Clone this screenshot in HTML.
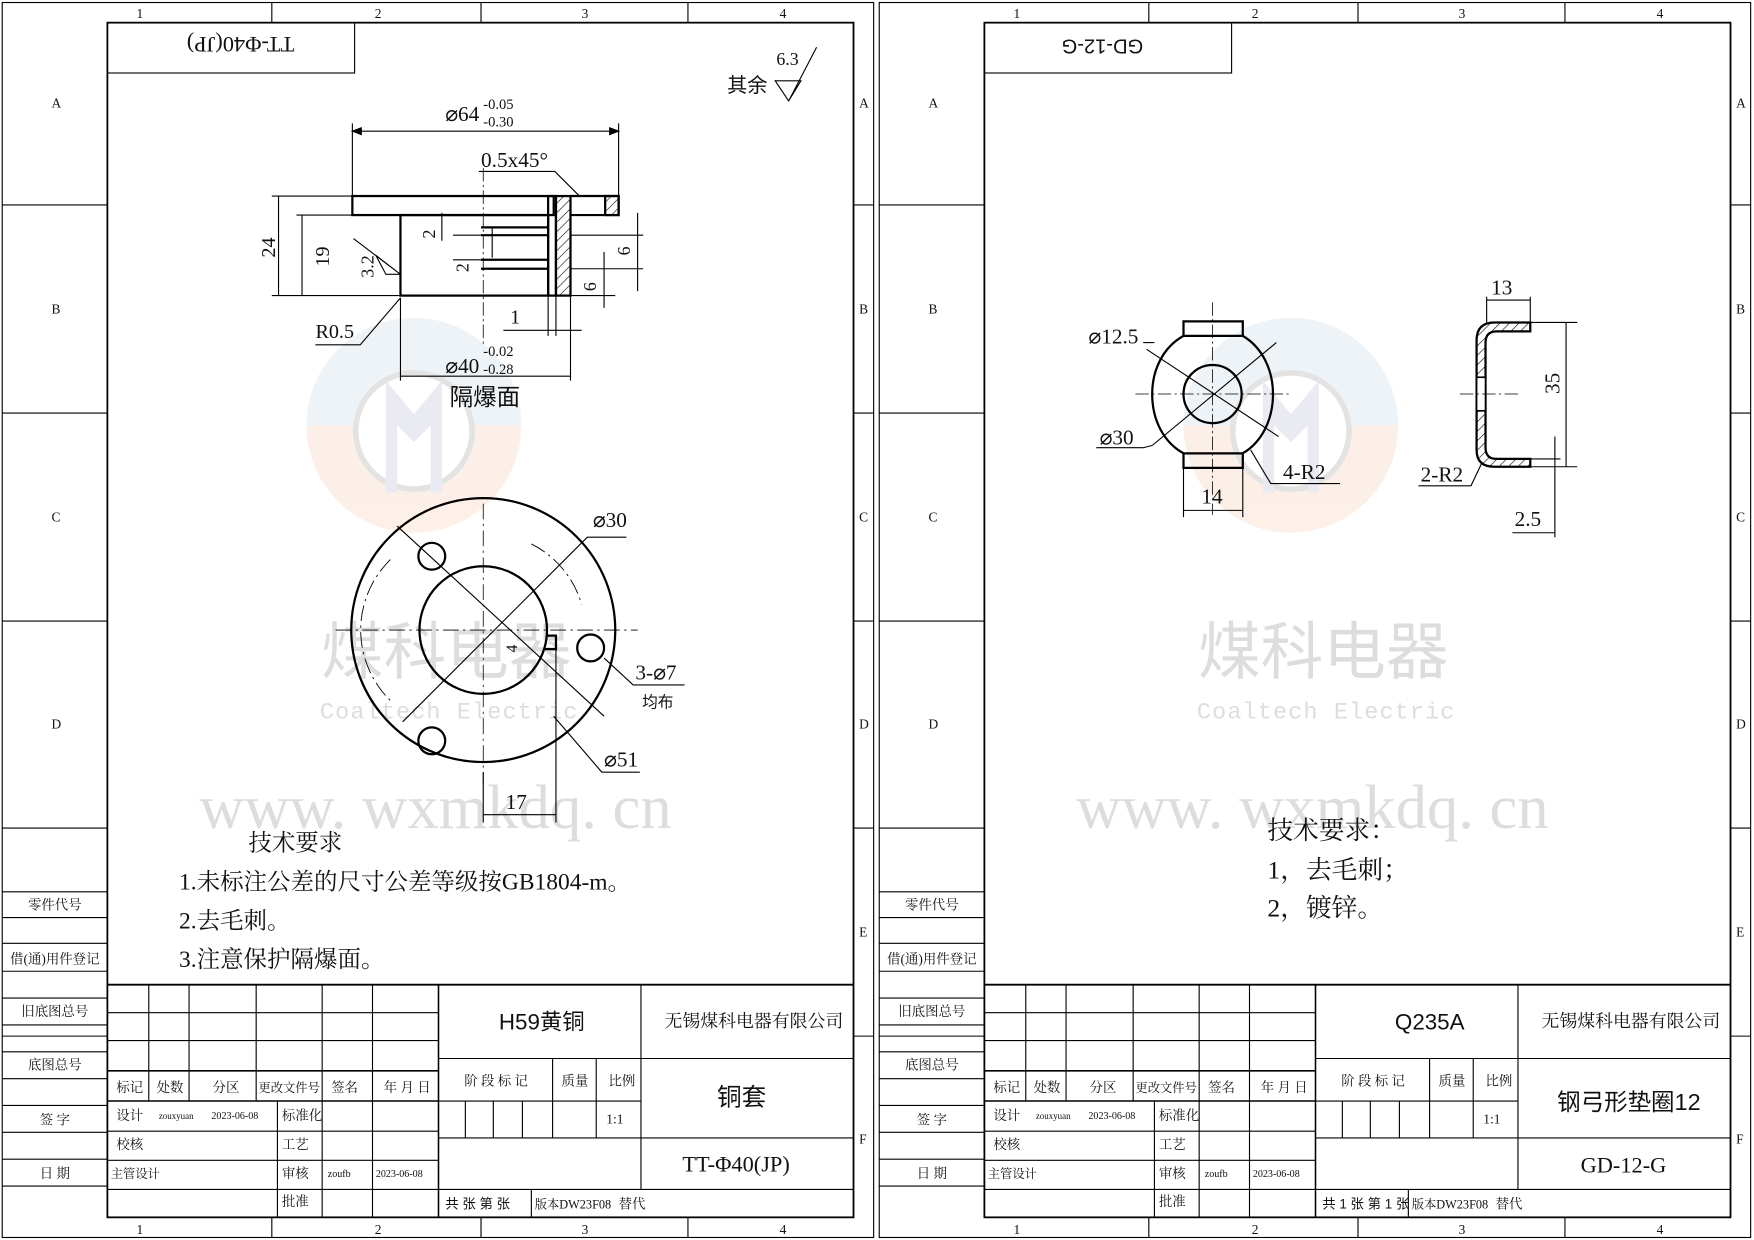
<!DOCTYPE html>
<html><head><meta charset="utf-8"><style>
html,body{margin:0;padding:0;background:#fff}
svg{display:block}
text{font-family:"Liberation Serif","Noto Serif CJK SC","Noto Sans CJK SC",serif;fill:#111}
.s{font-family:"Liberation Sans","Noto Sans CJK SC",sans-serif}
</style></head><body>
<svg width="1754" height="1240" viewBox="0 0 1568 1108" xmlns="http://www.w3.org/2000/svg">
<defs>
<pattern id="h" width="6" height="6" patternUnits="userSpaceOnUse" patternTransform="rotate(45)"><line x1="0" y1="0" x2="0" y2="6" stroke="#000" stroke-width="1"/></pattern>
<g id="frame" fill="none" stroke="#000" stroke-width="1">
<rect x="2" y="2" width="779" height="1104"/>
<rect x="96" y="20" width="667" height="1068" stroke-width="1.6"/>
<line x1="243" y1="2" x2="243" y2="20"/><line x1="430" y1="2" x2="430" y2="20"/><line x1="615" y1="2" x2="615" y2="20"/>
<line x1="243" y1="1088" x2="243" y2="1106"/><line x1="430" y1="1088" x2="430" y2="1106"/><line x1="615" y1="1088" x2="615" y2="1106"/>
<line x1="2" y1="183" x2="96" y2="183"/><line x1="2" y1="369" x2="96" y2="369"/><line x1="2" y1="555" x2="96" y2="555"/><line x1="2" y1="740" x2="96" y2="740"/><line x1="2" y1="926" x2="96" y2="926"/>
<line x1="763" y1="183" x2="781" y2="183"/><line x1="763" y1="369" x2="781" y2="369"/><line x1="763" y1="555" x2="781" y2="555"/><line x1="763" y1="740" x2="781" y2="740"/><line x1="763" y1="926" x2="781" y2="926"/>
<rect x="96" y="20" width="221" height="45"/>
<line x1="2" y1="797" x2="96" y2="797"/><line x1="2" y1="820" x2="96" y2="820"/><line x1="2" y1="843" x2="96" y2="843"/><line x1="2" y1="868" x2="96" y2="868"/>
<line x1="2" y1="892" x2="96" y2="892"/><line x1="2" y1="916" x2="96" y2="916"/><line x1="2" y1="940" x2="96" y2="940"/><line x1="2" y1="964" x2="96" y2="964"/>
<line x1="2" y1="988" x2="96" y2="988"/><line x1="2" y1="1012" x2="96" y2="1012"/><line x1="2" y1="1036" x2="96" y2="1036"/><line x1="2" y1="1060" x2="96" y2="1060"/>
<line x1="96" y1="880" x2="763" y2="880" stroke-width="1.6"/>
<line x1="392" y1="880" x2="392" y2="1088" stroke-width="1.4"/><line x1="573" y1="880" x2="573" y2="1063"/>
<line x1="96" y1="905" x2="392" y2="905"/><line x1="96" y1="930" x2="392" y2="930"/><line x1="96" y1="957" x2="392" y2="957" stroke-width="1.4"/>
<line x1="96" y1="984" x2="392" y2="984" stroke-width="1.4"/><line x1="96" y1="1011" x2="392" y2="1011"/><line x1="96" y1="1037" x2="392" y2="1037"/><line x1="96" y1="1063" x2="392" y2="1063"/>
<line x1="133" y1="880" x2="133" y2="984"/><line x1="169" y1="880" x2="169" y2="984"/><line x1="229" y1="880" x2="229" y2="984"/>
<line x1="288" y1="880" x2="288" y2="1088"/><line x1="333" y1="880" x2="333" y2="1088"/><line x1="248" y1="984" x2="248" y2="1088"/>
<line x1="392" y1="946" x2="763" y2="946"/><line x1="392" y1="984" x2="573" y2="984"/><line x1="392" y1="1017" x2="763" y2="1017"/><line x1="392" y1="1063" x2="763" y2="1063"/>
<line x1="494" y1="946" x2="494" y2="1017"/><line x1="533" y1="946" x2="533" y2="1017"/>
<line x1="416" y1="984" x2="416" y2="1017"/><line x1="441" y1="984" x2="441" y2="1017"/><line x1="467" y1="984" x2="467" y2="1017"/>
<line x1="475" y1="1063" x2="475" y2="1088"/>
</g>
<g id="ftext" font-size="12">
<text x="122" y="16">1</text><text x="335" y="16">2</text><text x="520" y="16">3</text><text x="697" y="16">4</text>
<text x="122" y="1103">1</text><text x="335" y="1103">2</text><text x="520" y="1103">3</text><text x="697" y="1103">4</text>
<text x="46" y="96">A</text><text x="46" y="280">B</text><text x="46" y="466">C</text><text x="46" y="651">D</text>
<text x="768" y="96">A</text><text x="768" y="280">B</text><text x="768" y="466">C</text><text x="768" y="651">D</text><text x="768" y="837">E</text><text x="768" y="1022">F</text>
<g class="s" font-size="12" text-anchor="middle"><text x="49" y="813">零件代号</text><text x="49" y="861">借(通)用件登记</text><text x="49" y="908">旧底图总号</text><text x="49" y="956">底图总号</text><text x="49" y="1005">签 字</text><text x="49" y="1053">日 期</text></g>
<g class="s" font-size="12"><text x="104" y="976">标记</text><text x="140" y="976">处数</text><text x="190" y="976">分区</text><text x="231" y="976" font-size="11">更改文件号</text><text x="296" y="976">签名</text><text x="343" y="976">年 月 日</text>
<text x="104" y="1001">设计</text><text x="104" y="1027">校核</text><text x="99" y="1053" font-size="11">主管设计</text>
<text x="252" y="1001">标准化</text><text x="252" y="1027">工艺</text><text x="252" y="1053">审核</text><text x="252" y="1078">批准</text>
<text x="142" y="1000" font-size="8">zouxyuan</text><text x="189" y="1000" font-size="9">2023-06-08</text>
<text x="293" y="1052" font-size="9">zoufb</text><text x="336" y="1052" font-size="9">2023-06-08</text>
<text x="415" y="970">阶 段 标 记</text><text x="502" y="970">质量</text><text x="544" y="970">比例</text><text x="542" y="1004">1:1</text>
<text x="478" y="1080" font-size="11">版本DW23F08</text><text x="553" y="1080">替代</text>
<text x="594" y="918" font-size="16">无锡煤科电器有限公司</text></g>
</g>
</defs>

<g opacity="0.4">
<circle cx="370" cy="380" r="96" fill="#f8d9c6"/><path d="M274 380 A96 96 0 0 1 466 380Z" fill="#d6e2f0"/>
<circle cx="370" cy="385" r="52" fill="#fff" stroke="#bbb" stroke-width="5"/>
<path d="M345 440 V340 L370 370 L395 340 V440 H385 V380 L370 395 L355 380 V440Z" fill="#c9cde0"/>
<circle cx="1154" cy="380" r="96" fill="#f8d9c6"/><path d="M1058 380 A96 96 0 0 1 1250 380Z" fill="#d6e2f0"/>
<circle cx="1154" cy="385" r="52" fill="#fff" stroke="#bbb" stroke-width="5"/>
<path d="M1129 440 V340 L1154 370 L1179 340 V440 H1169 V380 L1154 395 L1139 380 V440Z" fill="#c9cde0"/>
</g>
<g>
<text x="287" y="602" font-size="56" class="s" style="fill:#ddd">煤科电器</text>
<text x="286" y="642" font-size="21" style="fill:#ddd;font-family:'Liberation Mono',monospace" letter-spacing="1">Coaltech Electric</text>
<text x="178" y="740" font-size="56" style="fill:#ddd">www. wxmkdq. cn</text>
<text x="1071" y="602" font-size="56" class="s" style="fill:#ddd">煤科电器</text>
<text x="1070" y="642" font-size="21" style="fill:#ddd;font-family:'Liberation Mono',monospace" letter-spacing="1">Coaltech Electric</text>
<text x="962" y="740" font-size="56" style="fill:#ddd">www. wxmkdq. cn</text>
</g>

<use href="#frame"/><use href="#ftext"/>
<use href="#frame" transform="translate(784,0)"/><use href="#ftext" transform="translate(784,0)"/>

<text x="0" y="0" font-size="20" transform="translate(263,33) rotate(180)">TT-Φ40(JP)</text>
<text x="446" y="920" font-size="20" class="s">H59黄铜</text>
<text x="641" y="988" font-size="22" class="s">铜套</text>
<text x="610" y="1047" font-size="20">TT-Φ40(JP)</text>
<text x="398" y="1080" font-size="12" class="s">共  张  第  张</text>
<text x="0" y="0" font-size="18" transform="translate(1022,35) rotate(180)" class="s">GD-12-G</text>
<text x="1247" y="920" font-size="20" class="s">Q235A</text>
<text x="1392" y="992" font-size="21" class="s">钢弓形垫圈12</text>
<text x="1413" y="1048" font-size="20">GD-12-G</text>
<text x="1182" y="1080" font-size="12" class="s">共 1 张  第 1 张</text>

<g fill="none" stroke="#000" stroke-width="1">
<text x="650" y="82" font-size="18" class="s" stroke="none">其余</text>
<path d="M693 72 L716 72 L705 90 Z M705 90 L730 42"/><text x="694" y="58" font-size="16" stroke="none">6.3</text>
<g stroke-width="2"><rect x="315" y="175" width="180" height="17"/><rect x="358" y="192" width="132" height="72"/></g>
<rect x="497" y="175" width="13" height="89" fill="url(#h)" stroke-width="2"/>
<rect x="490" y="175" width="7" height="89" stroke-width="2"/>
<path d="M510 175 H553 V192 H510" stroke-width="2"/><rect x="541" y="175" width="12" height="17" fill="url(#h)" stroke-width="2"/>
<g stroke-width="2"><path d="M430 203 H490 M430 210 H490 M430 232 H490 M430 240 H490"/></g>
<line x1="432" y1="150" x2="432" y2="310" stroke-dasharray="12 3 2 3" stroke-width="0.7"/>
<path d="M315 175 V110 M553 175 V110 M315 117 H553"/><path d="M315 117 l8 -3 v6z M553 117 l-8 -3 v6z" fill="#000"/>
<text x="398" y="108" font-size="19" stroke="none">⌀64</text><text x="432" y="97" font-size="13" stroke="none">-0.05</text><text x="432" y="113" font-size="13" stroke="none">-0.30</text>
<path d="M428 153 H496 L518 175"/><text x="430" y="149" font-size="19" stroke="none">0.5x45°</text>
<path d="M243 175 H315 M243 264 H358 M249 175 V264 M270 192 V264 M265 192 H358"/>
<text transform="translate(246,230) rotate(-90)" font-size="18" stroke="none">24</text>
<text transform="translate(294,238) rotate(-90)" font-size="18" stroke="none">19</text>
<text transform="translate(334,248) rotate(-90)" font-size="16" stroke="none">3.2</text><path d="M336 228 L358 245 L345 245Z M316 213 L358 245"/>
<path d="M282 308 H322 L358 266"/><text x="282" y="302" font-size="18" stroke="none">R0.5</text>
<path d="M358 266 V340 M510 264 V340 M358 336 H510"/>
<text x="398" y="333" font-size="19" stroke="none">⌀40</text><text x="432" y="318" font-size="13" stroke="none">-0.02</text><text x="432" y="334" font-size="13" stroke="none">-0.28</text>
<text x="402" y="362" font-size="21" class="s" stroke="none">隔爆面</text>
<path d="M450 295 H520 M490 264 V300 M497 264 V300"/><text x="456" y="289" font-size="18" stroke="none">1</text>
<path d="M440 203 V230 M405 210 H430 M405 232 H430 M395 190 V215"/>
<text transform="translate(389,213) rotate(-90)" font-size="16" stroke="none">2</text>
<text transform="translate(419,243) rotate(-90)" font-size="16" stroke="none">2</text>
<path d="M510 210 H575 M510 240 H575 M570 190 V260 M540 225 V275 M510 264 H550"/>
<text transform="translate(563,228) rotate(-90)" font-size="16" stroke="none">6</text>
<text transform="translate(533,260) rotate(-90)" font-size="16" stroke="none">6</text>
<circle cx="432" cy="563" r="118" stroke-width="2"/>
<path d="M432 563 m-57 0 a57 57 0 1 0 114 0 a57 57 0 1 0 -114 0" stroke-width="2"/>
<path d="M489 568 h8 v12 h-10" stroke-width="2"/>
<circle cx="386" cy="497" r="12" stroke-width="2"/><circle cx="528" cy="579" r="12" stroke-width="2"/><circle cx="386" cy="662" r="12" stroke-width="2"/>
<path d="M349 500 A88 88 0 0 0 349 626 M475 486 A88 88 0 0 1 520 540" stroke-dasharray="14 4 2 4" stroke-width="0.8"/>
<path d="M432 450 V700 M300 563 H570" stroke-dasharray="14 4 2 4" stroke-width="0.7"/>
<path d="M355 470 L540 640 M360 645 L525 480 H560"/>
<text x="530" y="471" font-size="19" stroke="none">⌀30</text>
<path d="M540 588 L566 612 H612"/><text x="568" y="607" font-size="19" stroke="none">3-⌀7</text><text x="574" y="632" font-size="14" class="s" stroke="none">均布</text>
<path d="M495 640 L538 690 H572"/><text x="540" y="685" font-size="19" stroke="none">⌀51</text>
<path d="M432 690 V735 M497 580 V735 M432 728 H497"/><text x="452" y="723" font-size="19" stroke="none">17</text>
<text transform="translate(462,583) rotate(-90)" font-size="14" stroke="none">4</text>
</g>
<g class="s" font-size="21"><text x="222" y="760">技术要求</text><text x="160" y="795">1.未标注公差的尺寸公差等级按GB1804-m。</text><text x="160" y="830">2.去毛刺。</text><text x="160" y="864">3.注意保护隔爆面。</text></g>

<g fill="none" stroke="#000" stroke-width="1">
<path d="M1058 300 V287 H1111 V300 M1058 405 V418 H1111 V405 M1058 300 H1111 M1058 405 H1111" stroke-width="2"/>
<path d="M1058 300 C1040 310 1030 330 1030 352 C1030 375 1040 395 1058 405 M1111 300 C1128 310 1138 330 1138 352 C1138 375 1128 395 1111 405" stroke-width="2"/>
<circle cx="1084" cy="352" r="26" stroke-width="2"/>
<path d="M1084 270 V460 M1015 352 H1155" stroke-dasharray="12 3 2 3" stroke-width="0.7"/>
<path d="M1025 312 L1143 390 M1030 398 L1141 306"/>
<path d="M1032 306 H1022"/><text x="973" y="307" font-size="19" stroke="none">⌀12.5</text>
<path d="M1030 398 L1022 400 H980"/><text x="983" y="397" font-size="19" stroke="none">⌀30</text>
<path d="M1058 418 V462 M1111 418 V462 M1058 456 H1111"/><text x="1074" y="450" font-size="19" stroke="none">14</text>
<path d="M1118 402 L1136 432 H1198"/><text x="1147" y="428" font-size="19" stroke="none">4-R2</text>
<path d="M1368 288 H1336 Q1320 288 1320 304 V402 Q1320 417 1336 417 H1368 V410 H1338 Q1328 410 1328 400 V306 Q1328 296 1338 296 H1368 Z" fill="url(#h)" stroke-width="2"/>
<rect x="1320" y="337" width="8" height="30" fill="#fff" stroke-width="1.5"/>
<path d="M1305 352 H1358" stroke-dasharray="12 3 2 3" stroke-width="0.7"/>
<path d="M1329 288 V265 M1368 288 V265 M1329 268 H1368"/><text x="1333" y="263" font-size="19" stroke="none">13</text>
<path d="M1368 288 H1410 M1368 417 H1410 M1400 288 V417"/><text transform="translate(1394,352) rotate(-90)" font-size="19" stroke="none">35</text>
<path d="M1368 410 H1395 M1390 390 V480 M1352 476 H1390"/><text x="1354" y="470" font-size="19" stroke="none">2.5</text>
<path d="M1325 413 L1315 434 H1268"/><text x="1270" y="430" font-size="19" stroke="none">2-R2</text>
</g>
<g class="s" font-size="23"><text x="1133" y="750">技术要求：</text><text x="1133" y="785">1，去毛刺；</text><text x="1133" y="819">2，镀锌。</text></g>
</svg>
</body></html>
